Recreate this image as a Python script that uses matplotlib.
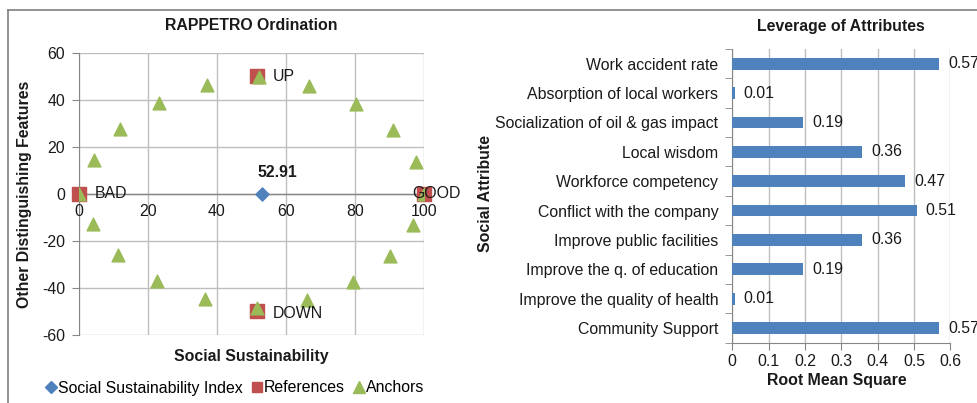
import matplotlib
matplotlib.use("Agg")
import matplotlib.pyplot as plt
from matplotlib.lines import Line2D

plt.rcParams['font.family'] = ['Liberation Sans', 'DejaVu Sans']
plt.rcParams['axes.unicode_minus'] = False

# ---- Ordination data ----
index_x = [52.91]
index_y = [0]

ref_names = ["BAD", "GOOD", "UP", "DOWN"]
ref_x = [0, 100, 51.6, 51.6]
ref_y = [0, 0, 50, -50]

anchor_x = [0, 4.4, 12.0, 23.2, 37.1, 52.1, 66.8, 80.2, 90.9, 97.6, 100,
            96.7, 90.0, 79.5, 66.2, 51.5, 36.4, 22.5, 11.2, 4.2]
anchor_y = [0, 14.4, 27.6, 38.6, 46.2, 49.7, 45.9, 38.3, 27.3, 13.7, 0,
            -13.4, -26.6, -37.5, -45.2, -48.6, -44.8, -37.2, -26.0, -12.7]

# ---- Leverage data (top to bottom) ----
attributes = ["Work accident rate", "Absorption of local workers",
              "Socialization of oil & gas impact", "Local wisdom",
              "Workforce competency", "Conflict with the company",
              "Improve public facilities", "Improve the q. of education",
              "Improve the quality of health", "Community Support"]
rms = [0.569, 0.007, 0.1945, 0.357, 0.475, 0.508, 0.357, 0.1945, 0.007, 0.569]

BLUE = '#4F81BD'
RED = '#C0504D'
GREEN = '#9BBB59'
GRID = '#BEBEBE'
AXIS = '#868686'
TXT = '#1a1a1a'
FS = 11.4

fig = plt.figure(figsize=(9.77, 4.03), dpi=100)

# frame lines
fig.add_artist(Line2D([8 / 977, 1], [1 - 10 / 403] * 2, color='#7f7f7f', lw=1.2))
fig.add_artist(Line2D([8 / 977] * 2, [0, 1 - 10 / 403], color='#7f7f7f', lw=1.2))

# ================= Left: ordination =================
ax1 = fig.add_axes([79 / 977, 1 - 335 / 403, 345 / 977, (335 - 52.7) / 403])
ax1.set_xlim(0, 100)
ax1.set_ylim(-60, 60)
ax1.set_xticks(range(0, 101, 20))
ax1.set_yticks(range(-60, 61, 20))
ax1.grid(True, color=GRID, lw=1)
ax1.set_axisbelow(True)
for s in ['top', 'right', 'bottom']:
    ax1.spines[s].set_visible(False)
ax1.spines['left'].set_color(AXIS)
ax1.axhline(0, color=AXIS, lw=1, zorder=1)
ax1.tick_params(axis='y', direction='out', length=5, color=AXIS,
                labelsize=FS, labelcolor=TXT, pad=5)
ax1.tick_params(axis='x', length=0, labelsize=FS, labelcolor=TXT)
ax1.set_xticklabels([])
for v in range(0, 101, 20):
    ax1.annotate(str(v), (v, 0), xytext=(0, -18), textcoords='offset pixels',
                 ha='center', va='center', fontsize=FS, color=TXT)

ax1.scatter(anchor_x, anchor_y, marker='^', s=85, color=GREEN, zorder=3,
            label='Anchors')
ax1.scatter(ref_x, ref_y, marker='s', s=95, color=RED, zorder=2,
            label='References', clip_on=False)
ax1.scatter(index_x, index_y, marker='D', s=45, color=BLUE, zorder=4,
            label='Social Sustainability Index')

ref_offsets = {"BAD": (16, 0), "GOOD": (-12, 0), "UP": (16, 0), "DOWN": (16, -2)}
for name, x, y in zip(ref_names, ref_x, ref_y):
    ax1.annotate(name, (x, y), xytext=ref_offsets[name], textcoords='offset pixels',
                 ha='left', va='center', fontsize=FS, color=TXT, zorder=5)
ax1.annotate(f"{index_x[0]:.2f}", (index_x[0], index_y[0]), xytext=(16, 21),
             textcoords='offset pixels', ha='center', va='center',
             fontsize=FS, fontweight='bold', color=TXT)

fig.text(251 / 977, 1 - 26 / 403, "RAPPETRO Ordination", ha='center', va='center',
         fontsize=FS, fontweight='bold', color=TXT)
fig.text(251 / 977, 1 - 356 / 403, "Social Sustainability", ha='center', va='center',
         fontsize=FS, fontweight='bold', color=TXT)
fig.text(25 / 977, 1 - 194 / 403, "Other Distinguishing Features", ha='center',
         va='center', rotation=90, fontsize=FS, fontweight='bold', color=TXT)

handles = [Line2D([], [], marker='D', ls='', color=BLUE, markersize=6),
           Line2D([], [], marker='s', ls='', color=RED, markersize=7),
           Line2D([], [], marker='^', ls='', color=GREEN, markersize=9)]
fig.legend(handles, ['Social Sustainability Index', 'References', 'Anchors'],
           loc='center left', bbox_to_anchor=(38 / 977, 1 - 388 / 403), ncol=3,
           frameon=False, fontsize=FS, handlelength=0.6, handletextpad=0.15,
           columnspacing=0.6, borderpad=0)

# ================= Right: leverage =================
ax2 = fig.add_axes([732.3 / 977, 1 - 342.7 / 403, 218 / 977, (342.7 - 49) / 403])
ypos = list(range(len(attributes)))
ax2.barh(ypos, rms, height=0.4, color=BLUE, zorder=3)
ax2.set_ylim(len(attributes) - 0.5, -0.5)
ax2.set_xlim(0, 0.6)
ax2.set_xticks([0, 0.1, 0.2, 0.3, 0.4, 0.5, 0.6])
ax2.set_xticklabels(['0', '0.1', '0.2', '0.3', '0.4', '0.5', '0.6'])
ax2.set_yticks(ypos)
ax2.set_yticklabels(attributes)
ax2.set_yticks([i - 0.5 for i in range(len(attributes) + 1)], minor=True)
ax2.grid(True, axis='x', color=GRID, lw=1, zorder=0)
for s in ['top', 'right']:
    ax2.spines[s].set_visible(False)
for s in ['left', 'bottom']:
    ax2.spines[s].set_color(AXIS)
ax2.tick_params(axis='y', which='major', length=0, labelsize=FS,
                labelcolor=TXT, pad=10)
ax2.tick_params(axis='y', which='minor', length=5, color=AXIS)
ax2.tick_params(axis='x', length=5, color=AXIS, labelsize=FS,
                labelcolor=TXT, pad=3)
for y, v in zip(ypos, rms):
    ax2.annotate(f"{v:.2f}", (v, y), xytext=(9, 0), textcoords='offset pixels',
                 ha='left', va='center', fontsize=FS, color=TXT,
                 annotation_clip=False, zorder=4)

fig.text(841 / 977, 1 - 26 / 403, "Leverage of Attributes", ha='center',
         va='center', fontsize=FS, fontweight='bold', color=TXT)
fig.text(837 / 977, 1 - 381 / 403, "Root Mean Square", ha='center', va='center',
         fontsize=FS, fontweight='bold', color=TXT)
fig.text(486 / 977, 1 - 193 / 403, "Social Attribute", ha='center', va='center',
         rotation=90, fontsize=FS, fontweight='bold', color=TXT)

fig.savefig('out.png', dpi=100, facecolor='white')
